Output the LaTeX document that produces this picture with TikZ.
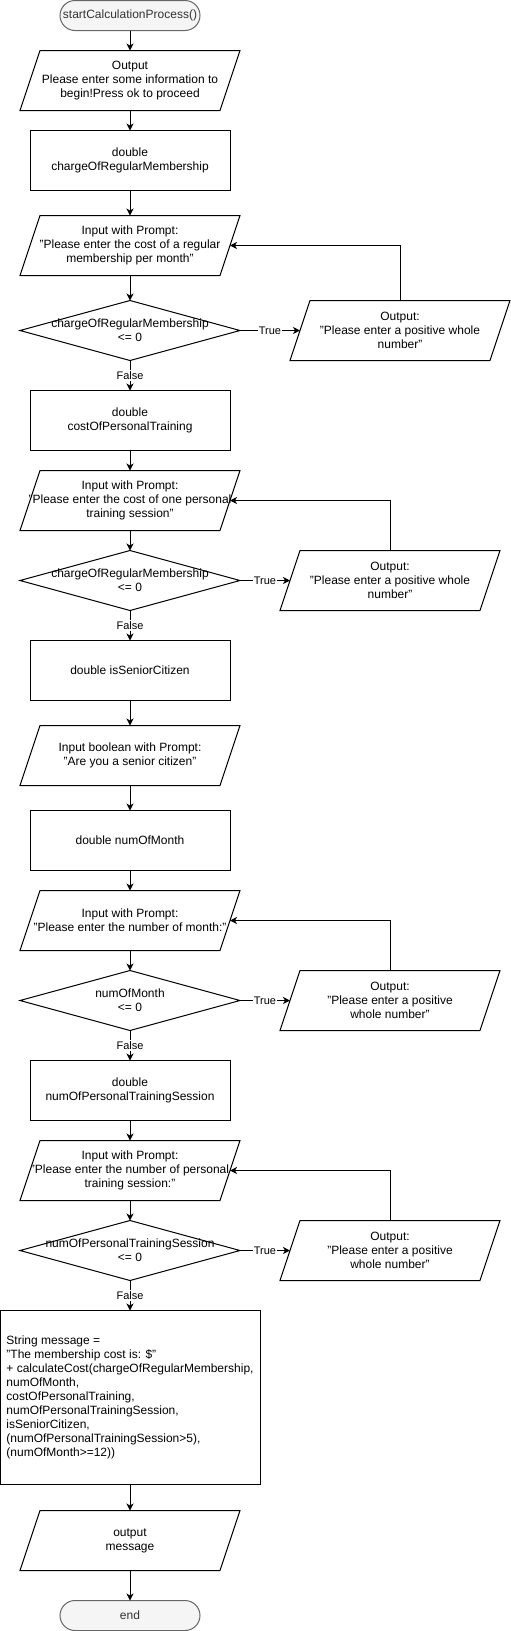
\documentclass[tikz,border=0pt]{standalone}
\usepackage{fontspec}
\setmainfont{Liberation Sans}
\usetikzlibrary{positioning,arrows.meta}

\definecolor{termfill}{HTML}{F5F5F5}
\definecolor{termline}{HTML}{666666}
\definecolor{termtext}{HTML}{333333}

\tikzset{
  base/.style={font=\fontsize{12}{14}\selectfont, inner sep=0pt, outer sep=0pt, align=center},
  term/.style={base, rectangle, rounded corners=15pt, draw=termline, fill=termfill, text=termtext, minimum width=140pt, minimum height=30pt, line width=1pt},
  proc/.style={base, draw, line width=1pt, minimum width=200pt, minimum height=60pt},
  io/.style={base, minimum width=220pt, minimum height=60pt},
  dec/.style={base, minimum width=220pt, minimum height=60pt},
  shp/.style={line width=1pt, line join=miter},
  flow/.style={-{Stealth[length=7pt,width=7pt,inset=2pt]}, line width=1pt},
  lbl/.style={font=\fontsize{11}{13}\selectfont, fill=white, inner sep=1pt}
}

\begin{document}
\begin{tikzpicture}
  \useasboundingbox (0,0) rectangle (511pt,-1631pt);

  \node[term] (start) at (130pt,-15.5pt) {startCalculationProcess()};
  \node[io, below=20pt of start] (o0) {Output\\Please enter some information to\\begin!Press ok to proceed};
  \node[proc, below=20pt of o0] (r1) {double\\chargeOfRegularMembership};
  \node[io, below=25pt of r1] (i1) {Input with Prompt:\\"Please enter the cost of a regular\\membership per month"};
  \node[dec, below=25pt of i1] (d1) {chargeOfRegularMembership\\<= 0};
  \node[io, right=50pt of d1] (po1) {Output:\\"Please enter a positive whole\\number"};

  \node[proc, below=30pt of d1] (r2) {double\\costOfPersonalTraining};
  \node[io, below=20pt of r2] (i2) {Input with Prompt:\\"Please enter the cost of one personal\\training session"};
  \node[dec, below=20pt of i2] (d2) {chargeOfRegularMembership\\<= 0};
  \node[io, right=40pt of d2] (po2) {Output:\\"Please enter a positive whole\\number"};

  \node[proc, below=30pt of d2] (r3) {double isSeniorCitizen};
  \node[io, below=25pt of r3] (i3) {Input boolean with Prompt:\\"Are you a senior citizen"};
  \node[proc, below=25pt of i3] (r4) {double numOfMonth};
  \node[io, below=20pt of r4] (i4) {Input with Prompt:\\"Please enter the number of month:"};
  \node[dec, below=20pt of i4] (d3) {numOfMonth\\<= 0};
  \node[io, right=40pt of d3] (po3) {Output:\\"Please enter a positive\\whole number"};

  \node[proc, below=30pt of d3] (r5) {double\\numOfPersonalTrainingSession};
  \node[io, below=20pt of r5] (i5) {Input with Prompt:\\"Please enter the number of personal\\training session:"};
  \node[dec, below=20pt of i5] (d4) {numOfPersonalTrainingSession\\<= 0};
  \node[io, right=40pt of d4] (po4) {Output:\\"Please enter a positive\\whole number"};

  \node[proc, align=left, minimum width=260pt, minimum height=174pt, below=30pt of d4] (msg) {String message =\\"The membership cost is: \$"\\+ calculateCost(chargeOfRegularMembership,\\numOfMonth,\\costOfPersonalTraining,\\numOfPersonalTrainingSession,\\isSeniorCitizen,\\(numOfPersonalTrainingSession>5),\\(numOfMonth>=12))};
  \node[io, below=26pt of msg] (om) {output\\message};
  \node[term, below=30pt of om] (end) {end};

  % outlines
  \foreach \n in {o0,i1,po1,i2,po2,i3,i4,po3,i5,po4,om}
    \draw[shp] ([xshift=20pt]\n.north west) -- (\n.north east) -- ([xshift=-20pt]\n.south east) -- (\n.south west) -- cycle;
  \foreach \n in {d1,d2,d3,d4}
    \draw[shp] (\n.north) -- (\n.east) -- (\n.south) -- (\n.west) -- cycle;

  % main line
  \draw[flow] (start) -- (o0);
  \draw[flow] (o0) -- (r1);
  \draw[flow] (r1) -- (i1);
  \draw[flow] (i1) -- (d1);
  \draw[flow] (r2) -- (i2);
  \draw[flow] (i2) -- (d2);
  \draw[flow] (r3) -- (i3);
  \draw[flow] (i3) -- (r4);
  \draw[flow] (r4) -- (i4);
  \draw[flow] (i4) -- (d3);
  \draw[flow] (r5) -- (i5);
  \draw[flow] (i5) -- (d4);
  \draw[flow] (msg) -- (om);
  \draw[flow] (om) -- (end);

  % decisions
  \draw[flow] (d1.south) -- node[lbl] {False} (r2);
  \draw[flow] (d2.south) -- node[lbl] {False} (r3);
  \draw[flow] (d3.south) -- node[lbl] {False} (r5);
  \draw[flow] (d4.south) -- node[lbl] {False} (msg);
  \draw[flow] (d1.east) -- node[lbl] {True} ([xshift=10pt]po1.west);
  \draw[flow] (d2.east) -- node[lbl] {True} ([xshift=10pt]po2.west);
  \draw[flow] (d3.east) -- node[lbl] {True} ([xshift=10pt]po3.west);
  \draw[flow] (d4.east) -- node[lbl] {True} ([xshift=10pt]po4.west);

  % back to the prompt
  \draw[flow] (po1.north) |- ([xshift=-10pt]i1.east);
  \draw[flow] (po2.north) |- ([xshift=-10pt]i2.east);
  \draw[flow] (po3.north) |- ([xshift=-10pt]i4.east);
  \draw[flow] (po4.north) |- ([xshift=-10pt]i5.east);
\end{tikzpicture}
\end{document}
